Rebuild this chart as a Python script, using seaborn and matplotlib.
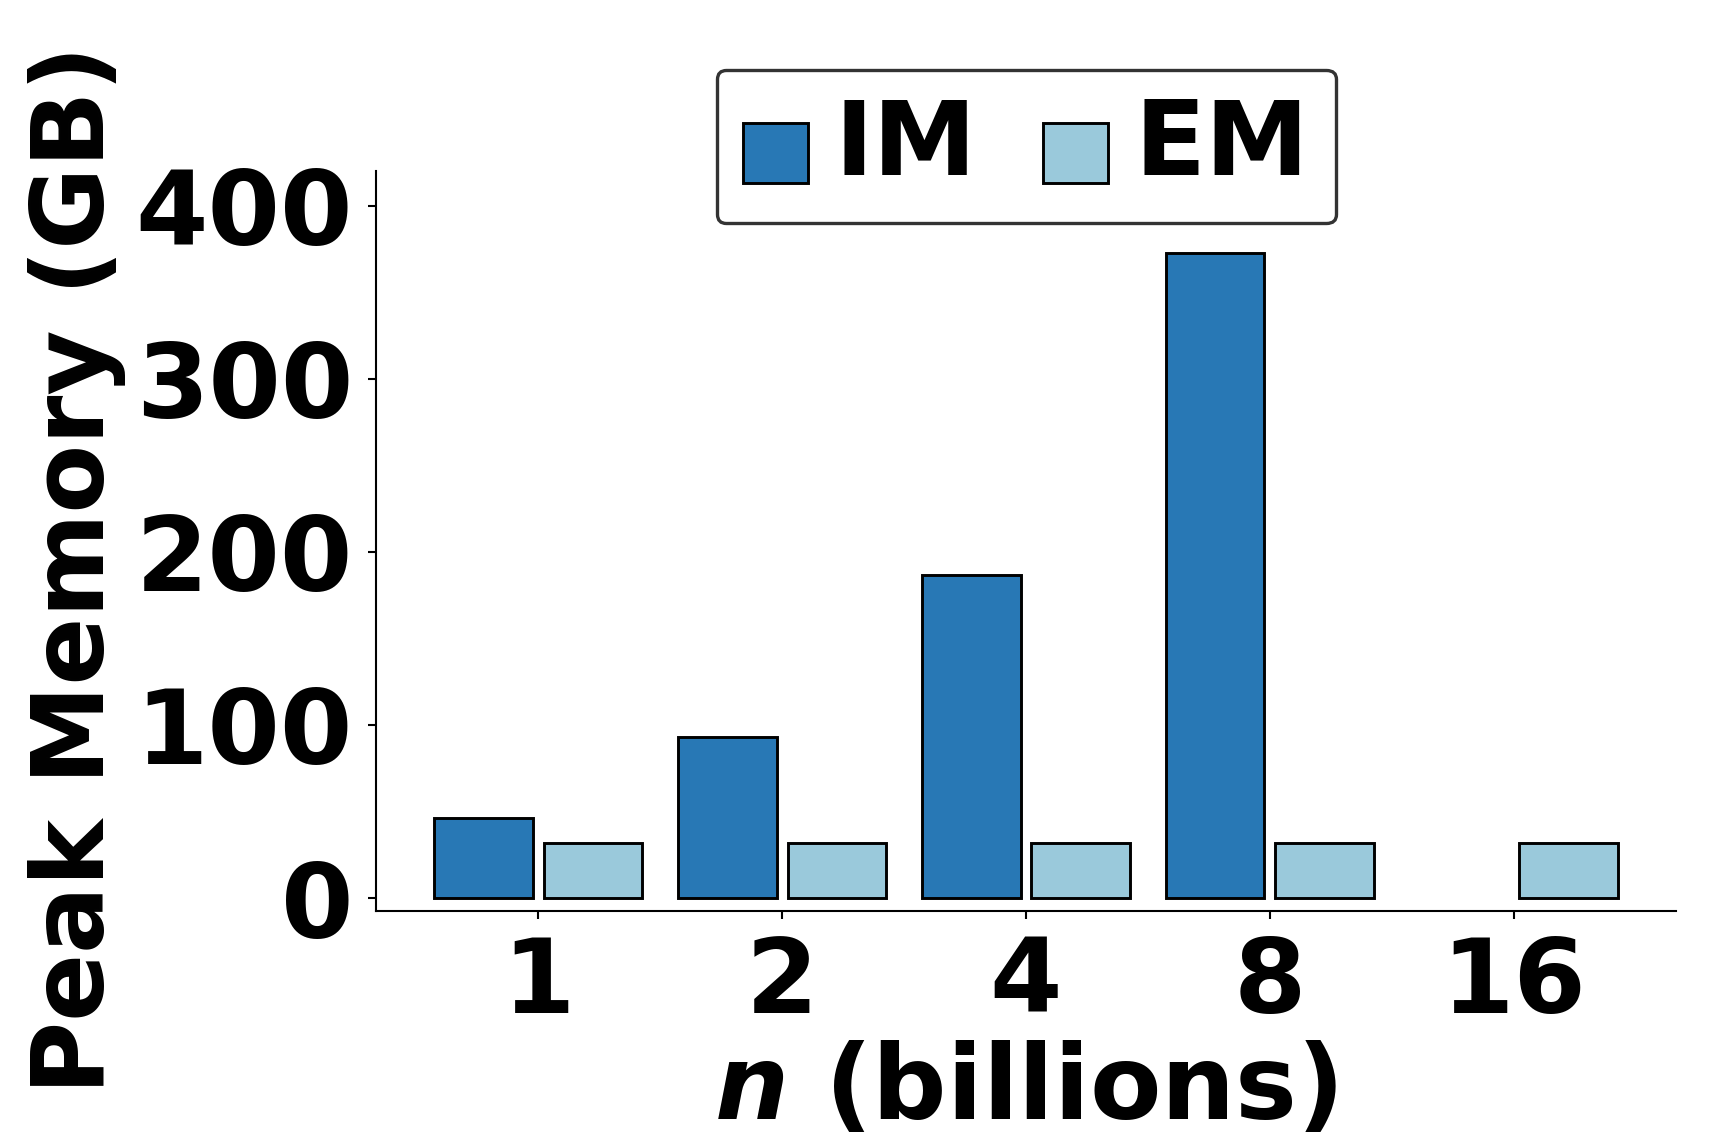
import numpy as np
import pandas as pd
import matplotlib
matplotlib.use("Agg")
import matplotlib.pyplot as plt
import seaborn as sns

# ---- data ----
sizes = ["1", "2", "4", "8", "16"]
im_mem = [46.5, 93.0, 186.5, 372.5, np.nan]
em_mem = [32.0, 32.0, 32.0, 32.0, 32.0]
methods = ["IM", "EM"]
colors = ["#2878B5", "#9AC9DB"]
yticks = [0, 100, 200, 300, 400]

df = pd.DataFrame({
    "n": sizes * 2,
    "mem": im_mem + em_mem,
    "method": ["IM"] * len(sizes) + ["EM"] * len(sizes),
})

sns.set_style("ticks")
plt.rcParams["font.family"] = ["DejaVu Sans"]
plt.rcParams["font.weight"] = "bold"
plt.rcParams["text.color"] = "black"
plt.rcParams["axes.labelcolor"] = "black"
plt.rcParams["xtick.color"] = "black"
plt.rcParams["ytick.color"] = "black"
plt.rcParams["mathtext.fontset"] = "custom"
plt.rcParams["mathtext.it"] = "DejaVu Sans:italic:bold"
plt.rcParams["mathtext.rm"] = "DejaVu Sans:bold"

FS = 25
fig = plt.figure(figsize=(1711 / 300, 1140 / 300), dpi=300)
ax = fig.add_axes([376 / 1711, 1 - 911 / 1140, (1676 - 376) / 1711, (911 - 171) / 1140])

sns.barplot(data=df, x="n", y="mem", hue="method", order=sizes, hue_order=methods,
            palette=colors, edgecolor="black", linewidth=0.7, width=0.9, gap=0.1,
            saturation=1, ax=ax)

ax.set_xlim(-0.665, 4.665)
ax.set_ylim(-7.5, 420)
ax.set_yticks(yticks)
ax.set_yticklabels([str(v) for v in yticks], fontsize=FS, fontweight="bold")
ax.set_xticks(range(len(sizes)))
ax.set_xticklabels(sizes, fontsize=FS, fontweight="bold")
ax.tick_params(axis="both", length=2, width=0.5, color="black", labelcolor="black")
for s in ["left", "bottom"]:
    ax.spines[s].set_linewidth(0.5)
    ax.spines[s].set_color("black")
sns.despine(ax=ax)

ax.set_xlabel(r"$n$ (billions)", fontsize=FS, fontweight="bold", labelpad=1.3)
ax.set_ylabel("Peak Memory (GB)", fontsize=24, fontweight="bold")
ax.yaxis.set_label_coords(-0.1925, 0.462)

leg = ax.legend(loc="upper center", bbox_to_anchor=(0.5, 1.1365), borderaxespad=0,
                ncol=2, prop={"size": 15.75, "weight": "bold"},
                handlelength=1.0, handleheight=1.03, handletextpad=0.4,
                columnspacing=1.0, borderpad=0.4, frameon=True, fancybox=True)
for t in leg.get_texts():
    t.set_fontsize(FS)
    t.set_fontweight("bold")
    t.set_color("black")
frame = leg.get_frame()
frame.set_edgecolor("#333333")
frame.set_linewidth(0.8)
frame.set_alpha(1)
frame.set_boxstyle("round", pad=0, rounding_size=0.14)
for h in leg.legend_handles:
    h.set_edgecolor("black")
    h.set_linewidth(0.7)

fig.savefig("out.png", dpi=300)
